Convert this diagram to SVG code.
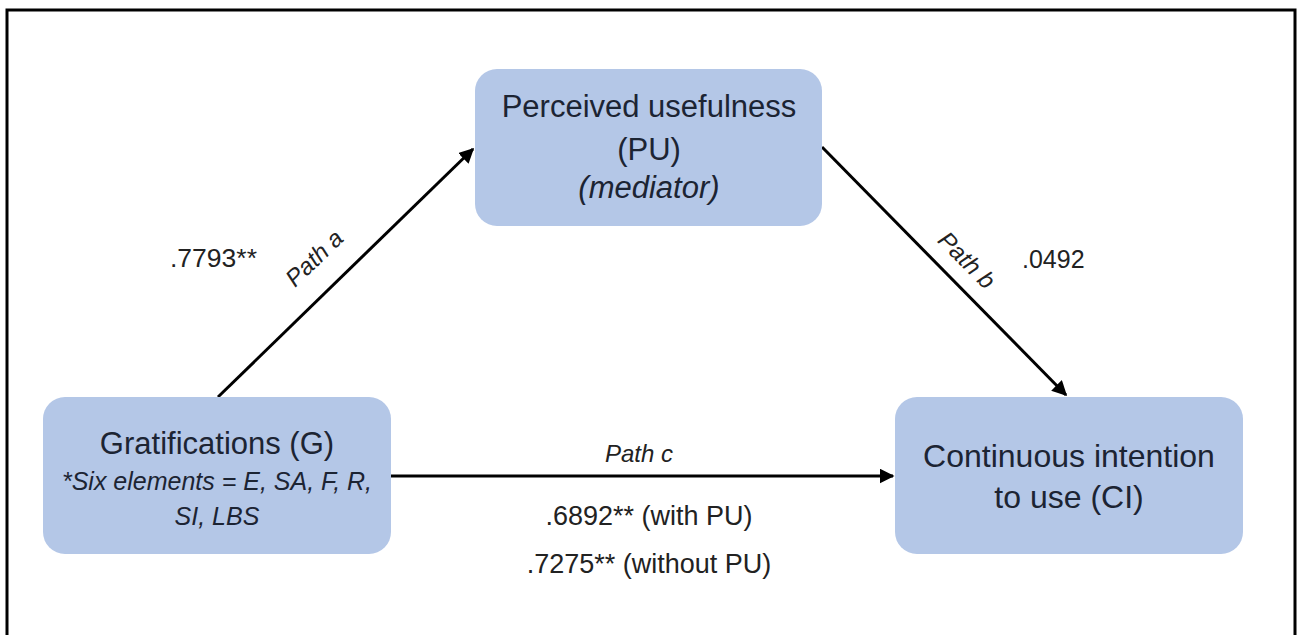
<svg xmlns="http://www.w3.org/2000/svg" width="1300" height="635" viewBox="0 0 1300 635">
  <style>
    .box { fill: #b4c7e7; }
    .nt { font-family: "Liberation Sans", Arial, sans-serif; fill: #1c2433; text-anchor: middle; }
    .lb { font-family: "Liberation Sans", Arial, sans-serif; fill: #222; }
    .it { font-style: italic; }
    .edge { stroke: #000; stroke-width: 3; fill: none; marker-end: url(#arr); }
  </style>
  <defs>
    <marker id="arr" viewBox="0 0 10 10" refX="9" refY="5" markerWidth="5" markerHeight="5" orient="auto" markerUnits="strokeWidth">
      <path d="M0,0 L10,5 L0,10 z" fill="#000"/>
    </marker>
  </defs>
  <rect x="0" y="0" width="1300" height="635" fill="#fff"/>
  <path d="M7,640 V10 H1295 V640" fill="none" stroke="#000" stroke-width="3"/>

  <g id="connectors">
    <line class="edge" x1="218" y1="397" x2="473" y2="149"/>
    <line class="edge" x1="822" y1="147" x2="1066" y2="395"/>
    <line class="edge" x1="391" y1="476" x2="893" y2="476"/>
    <text class="lb" x="170" y="267" font-size="26.5">.7793**</text>
    <text class="lb it" x="0" y="0" font-size="24" text-anchor="middle" transform="translate(320,264) rotate(-44)">Path a</text>
    <text class="lb it" x="0" y="0" font-size="24" text-anchor="middle" transform="translate(961,266) rotate(45)">Path b</text>
    <text class="lb" x="1022" y="268" font-size="25">.0492</text>
    <text class="lb it" x="639" y="462" font-size="24" text-anchor="middle">Path c</text>
    <text class="lb" x="649" y="525" font-size="27" text-anchor="middle">.6892** (with PU)</text>
    <text class="lb" x="649" y="573" font-size="27" text-anchor="middle">.7275** (without PU)</text>
  </g>

  <g id="node-pu">
    <rect class="box" x="475" y="69" width="347" height="157" rx="22"/>
    <text class="nt" x="649" y="117" font-size="31">Perceived usefulness</text>
    <text class="nt" x="649" y="160" font-size="31">(PU)</text>
    <text class="nt it" x="649" y="198" font-size="31">(mediator)</text>
  </g>

  <g id="node-g">
    <rect class="box" x="43" y="397" width="348" height="157" rx="22"/>
    <text class="nt" x="217" y="454" font-size="31">Gratifications (G)</text>
    <text class="nt it" x="217" y="490" font-size="25">*Six elements = E, SA, F, R,</text>
    <text class="nt it" x="217" y="525" font-size="25">SI, LBS</text>
  </g>

  <g id="node-ci">
    <rect class="box" x="895" y="397" width="348" height="157" rx="22"/>
    <text class="nt" x="1069" y="467" font-size="32">Continuous intention</text>
    <text class="nt" x="1069" y="508" font-size="32">to use (CI)</text>
  </g>
</svg>
